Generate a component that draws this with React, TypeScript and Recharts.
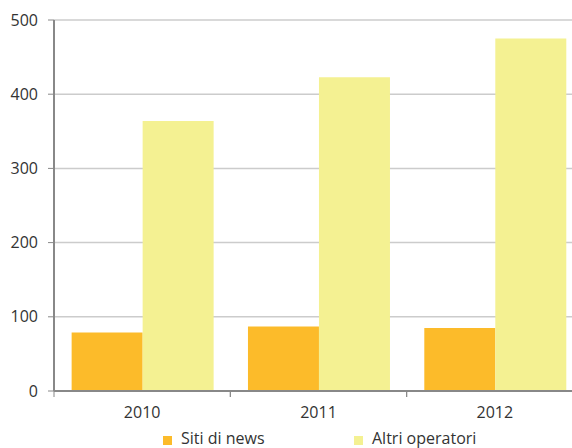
import { BarChart, Bar, XAxis, YAxis, CartesianGrid } from "recharts";

const YEARS = ["2010", "2011", "2012"];
const SITI_DI_NEWS = [79, 87, 85];
const ALTRI_OPERATORI = [364, 423, 475];
const Y_TICKS = [0, 100, 200, 300, 400, 500];

const ORANGE = "#fcbb2a";
const YELLOW = "#f4f192";
const AXIS = "#888888";
const GRID = "#cccccc";
const TEXT = "#333333";
const FONT = "'Open Sans', sans-serif";

const data = YEARS.map((year, i) => ({
  year,
  news: SITI_DI_NEWS[i],
  altri: ALTRI_OPERATORI[i],
}));

// category label plus a small tick at the left edge of each band
function YearTick(props: any) {
  const { x, y, payload } = props;
  const half = payload.offset || 0;
  const axisY = y - 16;
  return (
    <g>
      <line x1={x - half} x2={x - half} y1={axisY} y2={axisY + 6} stroke={AXIS} strokeWidth={1} />
      <line x1={x + half} x2={x + half} y1={axisY} y2={axisY + 6} stroke={AXIS} strokeWidth={1} />
      <text x={x} y={y} dy="0.71em" textAnchor="middle" fill={TEXT} fontSize={16} fontFamily={FONT}>
        {payload.value}
      </text>
    </g>
  );
}

function LegendItem({ color, label, left }: { color: string; label: string; left: number }) {
  return (
    <div style={{ position: "absolute", left, top: 428, display: "flex", alignItems: "center" }}>
      <span style={{ width: 9, height: 9, background: color, marginRight: 9, marginTop: 4 }} />
      <span style={{ fontSize: 16, fontFamily: FONT, color: TEXT, lineHeight: "20px" }}>{label}</span>
    </div>
  );
}

export default function App() {
  return (
    <div
      style={{
        position: "absolute",
        left: 0,
        top: 0,
        width: 572,
        height: 448,
        overflow: "hidden",
        background: "#ffffff",
      }}
    >
      <BarChart
        width={583}
        height={448}
        data={data}
        margin={{ top: 20, right: 0, left: 0, bottom: 0 }}
        barCategoryGap="10%"
        barGap={0}
      >
        <CartesianGrid vertical={false} stroke={GRID} strokeWidth={1.5} />
        <XAxis
          dataKey="year"
          height={57}
          axisLine={{ stroke: AXIS, strokeWidth: 2 }}
          tickLine={false}
          tickSize={6}
          tickMargin={10}
          tick={<YearTick />}
        />
        <YAxis
          width={54}
          domain={[0, 500]}
          ticks={Y_TICKS}
          axisLine={{ stroke: AXIS, strokeWidth: 2 }}
          tickLine={{ stroke: AXIS }}
          tickSize={6}
          tickMargin={10}
          tick={{ fontSize: 16, fill: TEXT, fontFamily: FONT }}
        />
        <Bar dataKey="news" name="Siti di news" fill={ORANGE} isAnimationActive={false} />
        <Bar dataKey="altri" name="Altri operatori" fill={YELLOW} isAnimationActive={false} />
      </BarChart>
      <LegendItem color={ORANGE} label="Siti di news" left={163} />
      <LegendItem color={YELLOW} label="Altri operatori" left={354} />
    </div>
  );
}
